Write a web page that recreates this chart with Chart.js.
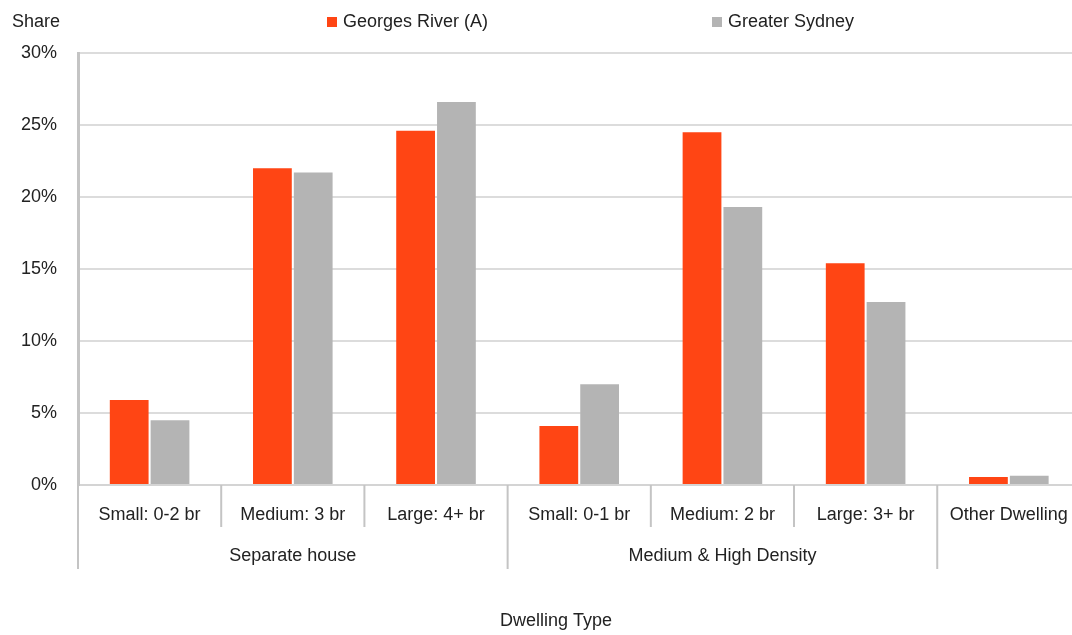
<!DOCTYPE html>
<html>
<head>
<meta charset="utf-8">
<script src="https://cdn.jsdelivr.net/npm/chart.js@4"></script>
<style>
  html, body { margin: 0; padding: 0; background: #fff; overflow: hidden; }
  #wrap { width: 1072px; height: 635px; overflow: hidden; }
</style>
</head>
<body>
<div id="wrap"><canvas id="myChart" width="1087" height="635"></canvas></div>
<script>
// categories and groups
const categories = ['Small: 0-2 br', 'Medium: 3 br', 'Large: 4+ br', 'Small: 0-1 br', 'Medium: 2 br', 'Large: 3+ br', 'Other Dwelling'];
const groupOf = ['Separate house', 'Separate house', 'Separate house', 'Medium & High Density', 'Medium & High Density', 'Medium & High Density', ''];

// series (share, %)
const georgesRiver = [5.9, 22.0, 24.6, 4.1, 24.5, 15.4, 0.55];
const greaterSydney = [4.5, 21.7, 26.6, 7.0, 19.3, 12.7, 0.65];

const yTicks = [0, 5, 10, 15, 20, 25, 30];

const FONT = 'Liberation Sans, Arial, sans-serif';
const TEXT = '#222222';
const LINE = '#c4c4c4';

// multi-level x labels, legend and titles
const extras = {
  id: 'extras',
  afterDraw(chart) {
    const ctx = chart.ctx;
    const x = chart.scales.x;
    const area = chart.chartArea;
    const base = area.bottom;
    ctx.save();
    ctx.strokeStyle = LINE;
    ctx.lineWidth = 2;
    // separators
    for (let i = 0; i <= categories.length; i++) {
      const px = i === 0 ? area.left : (i === categories.length ? area.right : (x.getPixelForTick(i - 1) + x.getPixelForTick(i)) / 2);
      const isGroupEdge = i === 0 || i === categories.length || groupOf[i] !== groupOf[i - 1];
      ctx.beginPath();
      ctx.moveTo(px, base);
      ctx.lineTo(px, base + (isGroupEdge ? 84 : 42));
      ctx.stroke();
    }
    // group labels
    ctx.fillStyle = TEXT;
    ctx.font = '18px ' + FONT;
    ctx.textAlign = 'center';
    ctx.textBaseline = 'middle';
    let start = 0;
    for (let i = 1; i <= categories.length; i++) {
      if (i === categories.length || groupOf[i] !== groupOf[start]) {
        if (groupOf[start]) {
          const l = start === 0 ? area.left : (x.getPixelForTick(start - 1) + x.getPixelForTick(start)) / 2;
          const r = (x.getPixelForTick(i - 1) + x.getPixelForTick(i)) / 2;
          ctx.fillText(groupOf[start], (l + r) / 2, base + 71);
        }
        start = i;
      }
    }
    // axis titles
    ctx.fillText('Dwelling Type', 556, 621);
    ctx.textAlign = 'left';
    ctx.fillText('Share', 12, 22);
    // legend
    chart.data.datasets.forEach((ds, i) => {
      const lx = [327, 712][i];
      ctx.fillStyle = ds.backgroundColor;
      ctx.fillRect(lx, 17, 10, 10);
      ctx.fillStyle = TEXT;
      ctx.fillText(ds.label, lx + 16, 22);
    });
    ctx.restore();
  }
};

const config = {
  type: 'bar',
  data: {
    labels: categories,
    datasets: [
      { label: 'Georges River (A)', data: georgesRiver, backgroundColor: '#ff4514', categoryPercentage: 0.57, barPercentage: 0.95 },
      { label: 'Greater Sydney', data: greaterSydney, backgroundColor: '#b4b4b4', categoryPercentage: 0.57, barPercentage: 0.95 },
    ],
  },
  options: {
    responsive: false,
    animation: false,
    layout: { padding: { top: 53, right: 2, left: 0, bottom: 0 } },
    scales: {
      x: {
        grid: { display: false, drawTicks: false },
        border: { display: true, color: '#d4d4d4', width: 2 },
        ticks: { color: TEXT, font: { family: FONT, size: 18 }, padding: 19, maxRotation: 0, autoSkip: false },
        afterFit(scale) { scale.height = 150; },
      },
      y: {
        min: 0,
        max: 30,
        afterBuildTicks(scale) { scale.ticks = yTicks.map(v => ({ value: v })); },
        grid: { color: '#dcdcdc', lineWidth: 2, drawTicks: false },
        border: { display: true, color: LINE, width: 3 },
        ticks: { color: TEXT, font: { family: FONT, size: 18 }, padding: 21, callback: v => v + '%' },
        afterFit(scale) { scale.width = 78; },
      },
    },
    plugins: {
      legend: { display: false },
      tooltip: { enabled: false },
    },
  },
  plugins: [extras],
};

const myChart = new Chart(document.getElementById('myChart'), config);
</script>
</body>
</html>
